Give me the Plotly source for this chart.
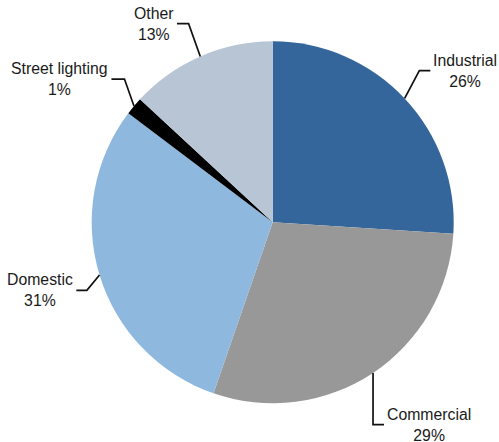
import math
import plotly.graph_objects as go

# ---- data ----
categories = ["Industrial", "Commercial", "Domestic", "Street lighting", "Other"]
shares = [26.0, 29.3, 30.0, 1.6, 13.1]          # slice sizes
share_labels = ["26%", "29%", "31%", "1%", "13%"]  # printed labels

# ---- style ----
colors = ["#34659b", "#989898", "#8fb8df", "#000000", "#b8c5d5"]
W, H = 499, 442
CX, CY, R = 272.7, 222.3, 181.0   # pie centre / radius in pixels
# leader geometry per slice: (dx, dy) from edge to elbow, horizontal run, text side
leaders = [
    (14.7, -27.7, 11.0, "left"),
    (0.0, 51.6, 11.0, "left"),
    (-12.7, 15.4, -10.5, "right"),
    (-9.5, -27.0, -13.0, "right"),
    (-11.7, -32.7, -11.6, "right"),
]
FONT = "Liberation Sans, Arial, Helvetica, sans-serif"


def px2paper(x, y):
    return x / W, 1 - y / H


fig = go.Figure()
fig.add_trace(go.Pie(
    labels=categories,
    values=shares,
    sort=False,
    direction="clockwise",
    rotation=0,
    marker=dict(colors=colors, line=dict(width=0)),
    textinfo="none",
    hoverinfo="label+percent",
    showlegend=False,
    domain=dict(x=[(CX - R) / W, (CX + R) / W],
                y=[1 - (CY + R) / H, 1 - (CY - R) / H]),
))

total = sum(shares)
cum = 0.0
shapes = []
annotations = []
for name, val, lab, (dx, dy, hx, side) in zip(categories, shares, share_labels, leaders):
    mid = (cum + val / 2) / total * 2 * math.pi
    cum += val
    ex, ey = CX + R * math.sin(mid), CY - R * math.cos(mid)
    bx, by = ex + dx, ey + dy
    tx = bx + hx
    pts = [px2paper(ex, ey), px2paper(bx, by), px2paper(tx, by)]
    path = "M {:.5f} {:.5f} L {:.5f} {:.5f} L {:.5f} {:.5f}".format(
        pts[0][0], pts[0][1], pts[1][0], pts[1][1], pts[2][0], pts[2][1])
    shapes.append(dict(type="path", xref="paper", yref="paper", path=path,
                       line=dict(color="#111111", width=1.7)))
    ax, ay = px2paper(tx + (2 if side == "left" else -2), by)
    annotations.append(dict(
        x=ax, y=ay, xref="paper", yref="paper",
        text=f"{name}<br>{lab}", showarrow=False,
        xanchor=side, yanchor="middle", align="center",
        borderpad=0,
        font=dict(family=FONT, size=15.8, color="#1a1a1a"),
    ))

fig.update_layout(
    width=W, height=H,
    margin=dict(l=0, r=0, t=0, b=0),
    paper_bgcolor="white",
    plot_bgcolor="white",
    shapes=shapes,
    annotations=annotations,
)

fig.write_html(
    "out.html",
    config={"displayModeBar": False},
    post_script="document.body.style.margin='0';document.body.style.overflow='hidden';",
)
